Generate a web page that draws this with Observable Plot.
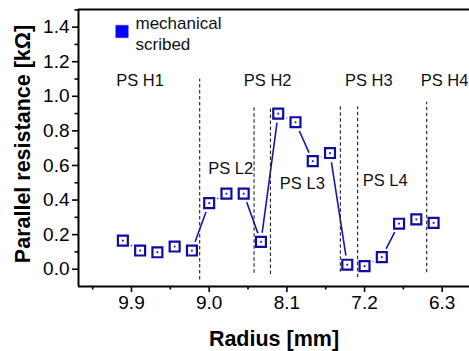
<!DOCTYPE html>
<html>
<head>
<meta charset="utf-8">
<script src="https://cdn.jsdelivr.net/npm/d3@7"></script>
<script src="https://cdn.jsdelivr.net/npm/@observablehq/plot@0.6"></script>
<style>
  html, body { margin: 0; padding: 0; background: #fff; }
  #chart { width: 469px; height: 351px; }
</style>
</head>
<body>
<div id="chart"></div>
<script>
// Data
const radius = [10.0, 9.8, 9.6, 9.4, 9.2, 9.0, 8.8, 8.6, 8.4, 8.2, 8.0, 7.8, 7.6, 7.4, 7.2, 7.0, 6.8, 6.6, 6.4];
const resistance = [0.165, 0.108, 0.098, 0.131, 0.108, 0.382, 0.437, 0.437, 0.158, 0.90, 0.85, 0.625, 0.672, 0.026, 0.018, 0.07, 0.263, 0.288, 0.268];

const boundaryX = [9.11, 8.48, 8.29, 7.48, 7.28, 6.48];
const boundaryTop = [1.10, 0.945, 0.93, 0.945, 0.94, 0.965];
const boundaryBottom = [-0.062, -0.023, -0.03, -0.017, -0.05, -0.021];

const regionNames = ["PS H1", "PS H2", "PS H3", "PS H4", "PS L2", "PS L3", "PS L4"];
const regionX = [10.077, 8.599, 7.427, 6.549, 9.012, 8.181, 7.222];
const regionY = [1.093, 1.089, 1.089, 1.093, 0.582, 0.495, 0.514];

const xMajorTicks = [9.9, 9.0, 8.1, 7.2, 6.3];
const xMinorTicks = [10.35, 9.45, 8.55, 7.65, 6.75];
const yMajorTicks = [0.0, 0.2, 0.4, 0.6, 0.8, 1.0, 1.2, 1.4];
const yMinorTicks = [0.1, 0.3, 0.5, 0.7, 0.9, 1.1, 1.3, 1.5];

const legendLabel = "mechanical\nscribed";
const xTitle = "Radius [mm]";
const yTitle = "Parallel resistance [k\u03A9]";

const xDomain = [10.514, 5.984];
const yDomain = [-0.1, 1.502];

const seriesColor = "#0d0da6";
const lineColor = "#1616b4";
const font = "Arial, 'Liberation Sans', sans-serif";

const chart = Plot.plot({
  width: 469,
  height: 351,
  marginLeft: 78,
  marginTop: 9,
  marginRight: 0,
  marginBottom: 65,
  x: {domain: xDomain, axis: null, label: null},
  y: {domain: yDomain, axis: null, label: null},
  style: {fontFamily: font, background: "#fff", overflow: "visible", color: "#000"},
  marks: [
    // data line
    Plot.line(radius, {x: radius, y: resistance, stroke: lineColor, strokeWidth: 1.6}),
    // gaps around symbols
    Plot.dot(radius, {x: radius, y: resistance, r: 9.5, fill: "#fff", stroke: null}),
    // region boundaries
    Plot.ruleX(boundaryX, {x: boundaryX, y1: boundaryBottom, y2: boundaryTop, stroke: "#222", strokeWidth: 1.1, strokeDasharray: "3.5,2.5"}),
    // symbols
    Plot.dot(radius, {x: radius, y: resistance, symbol: "square", r: 5.6, fill: "#fff", stroke: seriesColor, strokeWidth: 2.2}),
    Plot.dot(radius, {x: radius, y: resistance, symbol: "square", r: 1.0, fill: seriesColor, stroke: null}),
    // region labels
    Plot.text(regionNames, {x: regionX, y: regionY, text: regionNames, textAnchor: "start", lineAnchor: "middle", fontSize: 16.5, fill: "#111"}),
    // legend
    Plot.dot([0], {frameAnchor: "top-left", dx: 43.5, dy: 22, symbol: "square", r: 7.0, fill: "#0000ff", stroke: "#2a2ad0", strokeWidth: 0.6}),
    Plot.text([legendLabel], {frameAnchor: "top-left", dx: 57, dy: 23.5, text: d => d, textAnchor: "start", lineAnchor: "middle", lineHeight: 1.25, fontSize: 17, fill: "#111"}),
    // frame (top, left, bottom)
    Plot.ruleY([yDomain[1]], {stroke: "#000", strokeWidth: 2}),
    Plot.ruleY([yDomain[0]], {stroke: "#000", strokeWidth: 2}),
    Plot.ruleX([xDomain[0]], {stroke: "#000", strokeWidth: 2}),
    // axes
    Plot.axisX(xMajorTicks, {anchor: "bottom", tickSize: 6, tickPadding: 3, tickFormat: d3.format(".1f"), fontSize: 19, strokeWidth: 1.6, label: null}),
    Plot.axisX(xMinorTicks, {anchor: "bottom", tickSize: 3.5, tickFormat: () => "", strokeWidth: 1.6, label: null}),
    Plot.axisY(yMajorTicks, {anchor: "left", tickSize: 6, tickPadding: 3, tickFormat: d3.format(".1f"), fontSize: 19, strokeWidth: 1.6, label: null}),
    Plot.axisY(yMinorTicks, {anchor: "left", tickSize: 3.5, tickFormat: () => "", strokeWidth: 1.6, label: null}),
    // axis titles
    Plot.text([xTitle], {frameAnchor: "bottom", dy: 53, text: d => d, textAnchor: "middle", lineAnchor: "middle", fontSize: 21.5, fontWeight: "bold", fill: "#000"}),
    Plot.text([yTitle], {frameAnchor: "left", dx: -55.5, dy: -4, rotate: -90, text: d => d, textAnchor: "middle", lineAnchor: "middle", fontSize: 21.5, fontWeight: "bold", fill: "#000"})
  ]
});
document.getElementById("chart").appendChild(chart);
</script>
</body>
</html>
